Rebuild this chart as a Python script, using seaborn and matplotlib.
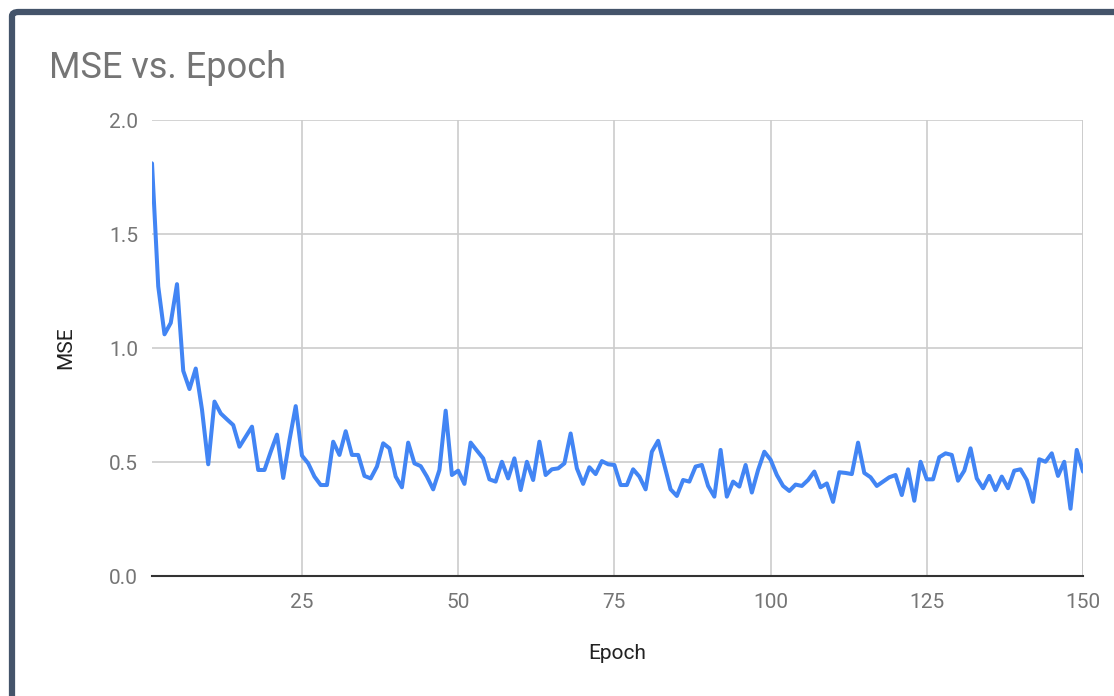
import numpy as np
import pandas as pd
import matplotlib
matplotlib.use("Agg")
import matplotlib.pyplot as plt
from matplotlib.patches import FancyBboxPatch
import seaborn as sns

# Training loss per epoch
epochs = list(range(1, 151))
mse = [
    1.81, 1.27, 1.06, 1.11, 1.28, 0.90, 0.82, 0.91, 0.73, 0.49,
    0.765, 0.713, 0.687, 0.662, 0.567, 0.611, 0.655, 0.465, 0.465, 0.545,
    0.62, 0.43, 0.596, 0.745, 0.528, 0.494, 0.436, 0.399, 0.399, 0.589,
    0.531, 0.635, 0.531, 0.531, 0.439, 0.428, 0.48, 0.582, 0.56, 0.436,
    0.389, 0.585, 0.494, 0.482, 0.436, 0.38, 0.465, 0.725, 0.443, 0.462,
    0.404, 0.585, 0.55, 0.516, 0.424, 0.414, 0.501, 0.428, 0.516, 0.377,
    0.501, 0.421, 0.589, 0.443, 0.468, 0.472, 0.494, 0.625, 0.472, 0.404,
    0.477, 0.447, 0.504, 0.49, 0.487, 0.399, 0.399, 0.468, 0.436, 0.38,
    0.545, 0.593, 0.487, 0.38, 0.351, 0.421, 0.414, 0.48, 0.487, 0.395,
    0.348, 0.553, 0.348, 0.414, 0.392, 0.487, 0.366, 0.465, 0.545, 0.51,
    0.443, 0.395, 0.373, 0.401, 0.395, 0.421, 0.458, 0.389, 0.406, 0.325,
    0.455, 0.452, 0.447, 0.585, 0.452, 0.433, 0.395, 0.414, 0.433, 0.443,
    0.355, 0.468, 0.33, 0.501, 0.424, 0.424, 0.521, 0.538, 0.531, 0.418,
    0.462, 0.56, 0.428, 0.385, 0.439, 0.377, 0.436, 0.385, 0.462, 0.468,
    0.421, 0.325, 0.512, 0.501, 0.538, 0.439, 0.501, 0.295, 0.553, 0.458,
]
y_ticks = [0.0, 0.5, 1.0, 1.5, 2.0]
x_ticks = [25, 50, 75, 100, 125, 150]

df = pd.DataFrame({"Epoch": epochs, "MSE": mse})

sns.set_theme(style="whitegrid")
plt.rcParams["font.family"] = ["Roboto", "DejaVu Sans"]

W, H = 1114, 696
fig = plt.figure(figsize=(W / 100, H / 100), dpi=100)
fig.patch.set_facecolor("white")

# Dashboard card frame (only top and left edges fall inside the canvas)
frame = FancyBboxPatch((12 / W, -0.1), 1.2, 1.1 - 12 / H,
                       boxstyle="round,pad=0,rounding_size=0.006",
                       transform=fig.transFigure, facecolor="none",
                       edgecolor="#44546A", linewidth=4.5, zorder=0)
fig.patches.append(frame)

ax = fig.add_axes([152 / W, 1 - 576 / H, (1083 - 152) / W, (576 - 120) / H])
ax.set_facecolor("white")

sns.lineplot(data=df, x="Epoch", y="MSE", ax=ax, color="#4285F4",
             linewidth=2.9, zorder=3)

ax.set_xlim(1, 150)
ax.set_ylim(0, 2.0)
ax.set_xticks(x_ticks)
ax.set_yticks(y_ticks)
ax.set_yticklabels([f"{v:.1f}" for v in y_ticks])

ax.grid(True, color="#CCCCCC", linewidth=1.2)
for side in ["top", "left", "right"]:
    ax.spines[side].set_visible(False)
ax.spines["bottom"].set_color("#333333")
ax.spines["bottom"].set_linewidth(1.5)
ax.spines["bottom"].set_zorder(4)
ax.axvline(150, color="#CCCCCC", linewidth=1.2, zorder=1)

ax.tick_params(axis="both", length=0, labelsize=15, labelcolor="#757575")
ax.tick_params(axis="x", pad=12)
ax.tick_params(axis="y", pad=10)

ax.set_xlabel("Epoch", fontsize=15, color="#222222", labelpad=23)
ax.set_ylabel("MSE", fontsize=15, color="#222222", labelpad=24)

fig.text(49 / W, 1 - 68 / H, "MSE vs. Epoch", fontsize=26, color="#757575",
         ha="left", va="center")

fig.savefig("out.png", dpi=100, facecolor="white")
